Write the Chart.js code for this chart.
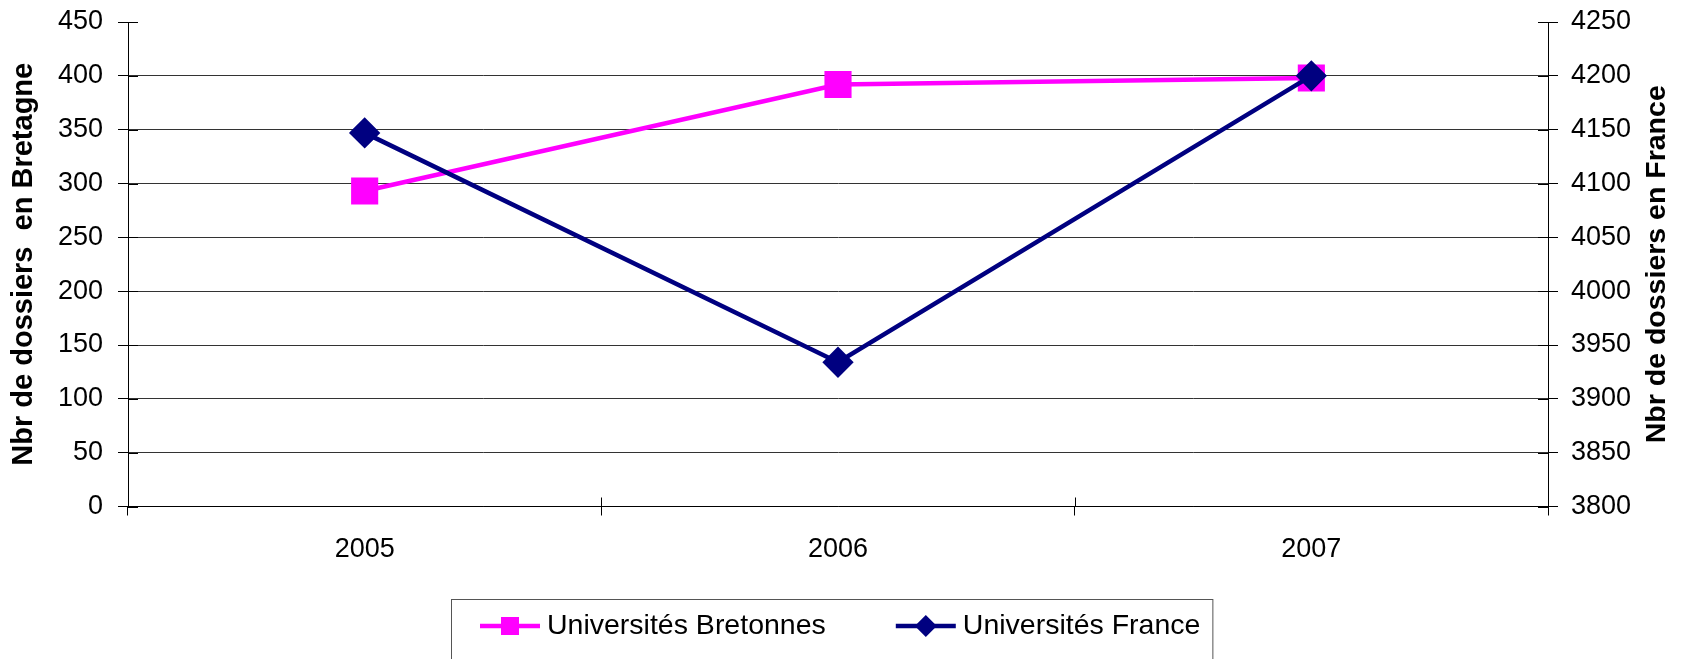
<!DOCTYPE html>
<html lang="fr">
<head>
<meta charset="UTF-8">
<title>Nbr de dossiers en Bretagne et en France</title>
<script src="https://cdn.jsdelivr.net/npm/chart.js"></script>
<style>
  body { margin: 0; background: white; }
  .chart-container { width: 1693px; height: 659px; position: relative; }
</style>
</head>
<body>
<div class="chart-container"><canvas id="dossiersChart"></canvas></div>
<script>
const years = ['2005', '2006', '2007'];
const bretagneValues = [293, 392, 398];
const franceValues = [4147, 3934, 4200];
const leftTicks = [0, 50, 100, 150, 200, 250, 300, 350, 400, 450];
const rightTicks = [3800, 3850, 3900, 3950, 4000, 4050, 4100, 4150, 4200, 4250];
const leftTitle = 'Nbr de dossiers  en Bretagne';
const rightTitle = 'Nbr de dossiers en France';

const FONT = "'Liberation Sans', Arial, sans-serif";

// tick marks in the reference cross the axis, Chart.js only draws the outer half
const crossTicks = {
    id: 'crossTicks',
    beforeDatasetsDraw(chart) {
        const {ctx, scales: {x, y, y2}} = chart;
        ctx.save();
        ctx.strokeStyle = '#000';
        ctx.lineWidth = 1;
        ctx.beginPath();
        y.ticks.forEach(t => {
            const py = Math.round(y.getPixelForValue(t.value)) + 0.5;
            ctx.moveTo(y.right, py);
            ctx.lineTo(y.right + 10, py);
        });
        y2.ticks.forEach(t => {
            const py = Math.round(y2.getPixelForValue(t.value)) + 0.5;
            ctx.moveTo(y2.left - 10, py);
            ctx.lineTo(y2.left, py);
        });
        for (let i = 0; i <= years.length; i++) {
            const px = Math.round(x.getPixelForValue(i - 0.5)) + 0.5;
            ctx.moveTo(px, x.top - 9);
            ctx.lineTo(px, x.top);
        }
        ctx.stroke();
        ctx.restore();
    }
};

// right title reads bottom to top like the left one
const rightAxisTitle = {
    id: 'rightAxisTitle',
    afterDraw(chart) {
        const {ctx, scales: {y2}, chartArea} = chart;
        ctx.save();
        ctx.translate(y2.right - 36, (chartArea.top + chartArea.bottom) / 2);
        ctx.rotate(-Math.PI / 2);
        ctx.font = 'bold 28.5px ' + FONT;
        ctx.fillStyle = '#000';
        ctx.textAlign = 'center';
        ctx.textBaseline = 'middle';
        ctx.fillText(rightTitle, 0, 0);
        ctx.restore();
    }
};

// boxed legend with line + marker samples
const boxedLegend = {
    id: 'boxedLegend',
    afterDraw(chart) {
        const ctx = chart.ctx;
        const boxLeft = 451, boxTop = 599, textY = 626;
        ctx.save();
        ctx.font = '28.5px ' + FONT;
        ctx.textBaseline = 'middle';
        let x = boxLeft + 29;
        chart.data.datasets.forEach((ds, i) => {
            ctx.strokeStyle = ds.borderColor;
            ctx.lineWidth = 4.5;
            ctx.beginPath();
            ctx.moveTo(x, textY);
            ctx.lineTo(x + 60, textY);
            ctx.stroke();
            ctx.fillStyle = ds.backgroundColor;
            ctx.beginPath();
            if (ds.pointStyle === 'rect') {
                ctx.rect(x + 30 - 9, textY - 9, 18, 18);
            } else {
                ctx.moveTo(x + 30, textY - 11);
                ctx.lineTo(x + 41, textY);
                ctx.lineTo(x + 30, textY + 11);
                ctx.lineTo(x + 19, textY);
                ctx.closePath();
            }
            ctx.fill();
            x += 67;
            ctx.fillStyle = '#000';
            ctx.fillText(ds.label, x, textY);
            x += ctx.measureText(ds.label).width;
            if (i < chart.data.datasets.length - 1) x += 70;
        });
        ctx.strokeStyle = '#555';
        ctx.lineWidth = 1;
        ctx.strokeRect(boxLeft + 0.5, boxTop + 0.5, x + 12 - boxLeft, 80);
        ctx.restore();
    }
};

const plainTick = v => String(v);

const ctx = document.getElementById('dossiersChart').getContext('2d');
new Chart(ctx, {
    type: 'line',
    data: {
        labels: years,
        datasets: [
            {
                label: 'Universités Bretonnes',
                data: bretagneValues,
                yAxisID: 'y',
                borderColor: '#FF00FF',
                backgroundColor: '#FF00FF',
                borderWidth: 4.5,
                pointStyle: 'rect',
                pointRadius: 16,
                pointHoverRadius: 16,
                order: 1
            },
            {
                label: 'Universités France',
                data: franceValues,
                yAxisID: 'y2',
                borderColor: '#000080',
                backgroundColor: '#000080',
                borderWidth: 4.5,
                pointStyle: 'rectRot',
                pointRadius: 12.5,
                pointHoverRadius: 12.5,
                order: 0
            }
        ]
    },
    options: {
        responsive: true,
        maintainAspectRatio: false,
        animation: false,
        layout: { padding: { top: 22, left: 0, right: 0, bottom: 0 } },
        plugins: {
            legend: { display: false },
            tooltip: { enabled: false }
        },
        scales: {
            x: {
                offset: true,
                grid: { offset: true, drawOnChartArea: false, tickLength: 9, color: '#000' },
                border: { color: '#000' },
                ticks: { font: { family: FONT, size: 27 }, color: '#000', padding: 18 },
                afterFit: s => { s.height = 152.5; s.paddingLeft = 0; s.paddingRight = 0; }
            },
            y: {
                position: 'left',
                min: 0,
                max: 450,
                afterBuildTicks: s => { s.ticks = leftTicks.map(v => ({ value: v })); },
                afterFit: s => { s.width = 128; s.paddingTop = 0; s.paddingBottom = 0; },
                grid: {
                    color: c => (c.tick && c.tick.value === 450) ? 'rgba(0,0,0,0)' : '#333',
                    tickColor: '#000',
                    tickLength: 10
                },
                border: { color: '#000' },
                ticks: { font: { family: FONT, size: 27 }, color: '#000', padding: 15, callback: plainTick },
                title: {
                    display: true,
                    text: leftTitle,
                    color: '#000',
                    font: { family: FONT, size: 29, weight: 'bold' },
                    padding: { top: 7, bottom: 0 }
                }
            },
            y2: {
                position: 'right',
                min: 3800,
                max: 4250,
                afterBuildTicks: s => { s.ticks = rightTicks.map(v => ({ value: v })); },
                afterFit: s => { s.width = 145; s.paddingTop = 0; s.paddingBottom = 0; },
                grid: { drawOnChartArea: false, color: '#000', tickLength: 10 },
                border: { color: '#000' },
                ticks: { font: { family: FONT, size: 27 }, color: '#000', padding: 13, callback: plainTick }
            }
        }
    },
    plugins: [crossTicks, rightAxisTitle, boxedLegend]
});
</script>
</body>
</html>
